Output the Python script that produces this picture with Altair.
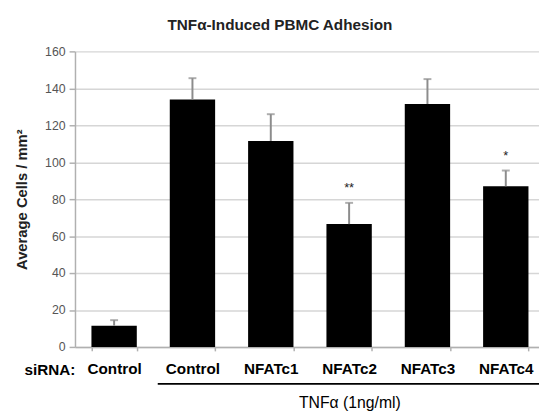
import altair as alt
import pandas as pd

keys = ["c0", "c1", "c2", "c3", "c4", "c5"]
labels = ["Control", "Control", "NFATc1", "NFATc2", "NFATc3", "NFATc4"]
means = [11.5, 134, 111.5, 66.5, 131.5, 87]
err_top = [14.5, 145.5, 126, 78, 145, 95.5]
stars = ["", "", "", "**", "", "*"]

df = pd.DataFrame({"key": keys, "label": labels, "mean": means, "top": err_top, "star": stars})

label_expr = "{'c0':'Control','c1':'Control','c2':'NFATc1','c3':'NFATc2','c4':'NFATc3','c5':'NFATc4'}[datum.value]"

FONT = "Liberation Sans"
xscale = alt.Scale(domain=keys, range=[0, 477], paddingInner=0.421, paddingOuter=0.21)
xaxis = alt.Axis(labelExpr=label_expr, labelAngle=0, labelFont=FONT,
                 labelFontSize=15.5, labelFontWeight="bold", labelColor="black",
                 tickBand="extent", tickSize=4, tickColor="#b0b0b0", tickWidth=1.5,
                 domainColor="#b0b0b0", domainWidth=1.5, labelPadding=11, grid=False)
yaxis = alt.Axis(values=list(range(0, 161, 20)), labelFont=FONT,
                 labelFontSize=12.5, labelColor="#555555", tickSize=6, tickWidth=1.5,
                 tickColor="#b0b0b0", domainColor="#b0b0b0", domainWidth=1.5,
                 gridColor="#d6d6d6", gridWidth=1.5,
                 titleFont=FONT, titleFontSize=15, titleFontWeight="bold",
                 titleColor="#222222", titlePadding=15, labelPadding=4)
yscale = alt.Scale(domain=[0, 160])

x = alt.X("key:N", scale=xscale, sort=keys, title=None, axis=xaxis)
ytitle = "Average Cells / mm²"

base = alt.Chart(df)
bars = base.mark_bar(color="black").encode(
    x=x, y=alt.Y("mean:Q", scale=yscale, title=ytitle, axis=yaxis))
err = base.mark_rule(color="#8c8c8c", strokeWidth=2).encode(
    x=x, y=alt.Y("mean:Q", scale=yscale, title=ytitle, axis=yaxis), y2="top:Q")
caps = base.mark_tick(color="#8c8c8c", thickness=2, size=8, orient="horizontal").encode(
    x=x, y=alt.Y("top:Q", scale=yscale, title=ytitle, axis=yaxis))
star_txt = base.mark_text(font=FONT, fontSize=13, baseline="middle",
                          dy=-15, color="#222222").encode(
    x=x, y=alt.Y("top:Q", scale=yscale, title=ytitle, axis=yaxis), text="star:N")

sirna = alt.Chart(pd.DataFrame({"t": ["siRNA:"]})).mark_text(
    font=FONT, fontSize=15.5, fontWeight="bold", color="black", baseline="middle").encode(
    x=alt.value(-25.5), y=alt.value(323), text="t:N")
grp_line = alt.Chart(pd.DataFrame({"t": ["TNFα (1ng/ml)"]})).mark_rule(color="black", strokeWidth=2).encode(
    x=alt.value(84), x2=alt.value(480), y=alt.value(337.5))
grp_txt = alt.Chart(pd.DataFrame({"t": ["TNFα (1ng/ml)"]})).mark_text(
    font=FONT, fontSize=16, color="black", baseline="middle").encode(
    x=alt.value(279), y=alt.value(356.5), text="t:N")

chart = alt.layer(bars, err, caps, star_txt, sirna, grp_line, grp_txt).properties(
    width=471, height=300,
    title=alt.TitleParams("TNFα-Induced PBMC Adhesion", font=FONT, fontSize=15.5,
                          fontWeight="bold", color="#222222", anchor="middle", dx=-27.5, offset=12),
    autosize=alt.AutoSizeParams(type="none"),
    padding={"left": 68, "top": 41, "right": 0, "bottom": 63},
).configure_view(stroke=None)

chart.save("out.html", embed_options={"renderer": "svg", "actions": False})
